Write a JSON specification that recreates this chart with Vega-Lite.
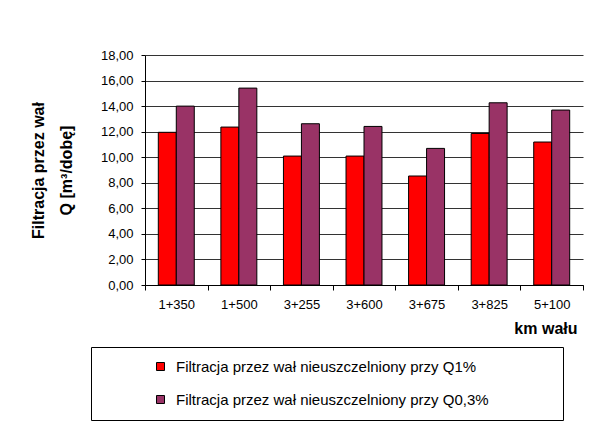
{
  "$schema": "https://vega.github.io/schema/vega-lite/v6.json",
  "width": 438,
  "height": 230,
  "autosize": {"type": "none"},
  "padding": {"left": 145, "top": 55, "right": 14, "bottom": 143},
  "background": "white",
  "config": {
    "font": "Liberation Sans",
    "view": {"stroke": null},
    "axis": {"labelFont": "Liberation Sans", "titleFont": "Liberation Sans", "labelColor": "#000", "titleColor": "#000"}
  },
  "data": {
    "values": [
      {"km": "1+350", "seria": "Filtracja przez wał nieuszczelniony przy Q1%", "q": 11.95},
      {"km": "1+350", "seria": "Filtracja przez wał nieuszczelniony przy Q0,3%", "q": 14.0},
      {"km": "1+500", "seria": "Filtracja przez wał nieuszczelniony przy Q1%", "q": 12.36},
      {"km": "1+500", "seria": "Filtracja przez wał nieuszczelniony przy Q0,3%", "q": 15.41},
      {"km": "3+255", "seria": "Filtracja przez wał nieuszczelniony przy Q1%", "q": 10.09},
      {"km": "3+255", "seria": "Filtracja przez wał nieuszczelniony przy Q0,3%", "q": 12.62},
      {"km": "3+600", "seria": "Filtracja przez wał nieuszczelniony przy Q1%", "q": 10.09},
      {"km": "3+600", "seria": "Filtracja przez wał nieuszczelniony przy Q0,3%", "q": 12.41},
      {"km": "3+675", "seria": "Filtracja przez wał nieuszczelniony przy Q1%", "q": 8.53},
      {"km": "3+675", "seria": "Filtracja przez wał nieuszczelniony przy Q0,3%", "q": 10.69},
      {"km": "3+825", "seria": "Filtracja przez wał nieuszczelniony przy Q1%", "q": 11.86},
      {"km": "3+825", "seria": "Filtracja przez wał nieuszczelniony przy Q0,3%", "q": 14.26},
      {"km": "5+100", "seria": "Filtracja przez wał nieuszczelniony przy Q1%", "q": 11.19},
      {"km": "5+100", "seria": "Filtracja przez wał nieuszczelniony przy Q0,3%", "q": 13.69}
    ]
  },
  "mark": {"type": "bar", "stroke": "#000", "strokeWidth": 1},
  "encoding": {
    "x": {
      "field": "km", "type": "nominal", "sort": null,
      "scale": {"paddingInner": 0, "paddingOuter": 0},
      "axis": {
        "title": "km wału", "titleFontSize": 16, "titleFontWeight": "bold",
        "titleAnchor": "end", "titleAlign": "right", "titleX": 432, "titlePadding": 9,
        "labelAngle": 0, "labelFontSize": 13, "labelPadding": 8,
        "tickBand": "extent", "tickSize": 5, "tickColor": "#000",
        "domainColor": "#000", "grid": false
      }
    },
    "xOffset": {
      "field": "seria", "type": "nominal", "sort": null,
      "scale": {"paddingInner": 0, "paddingOuter": 0.74}
    },
    "y": {
      "field": "q", "type": "quantitative",
      "scale": {"domain": [0, 18], "nice": false},
      "axis": {
        "title": ["Filtracja przez wał", "Q [m³/dobę]"],
        "titleFontSize": 16, "titleFontWeight": "bold", "titleLineHeight": 28,
        "titlePadding": 26,
        "values": [0, 2, 4, 6, 8, 10, 12, 14, 16, 18],
        "labelExpr": "replace(format(datum.value, '.2f'), '.', ',')",
        "labelFontSize": 13, "labelPadding": 8, "tickSize": 4, "tickColor": "#000",
        "domainColor": "#000",
        "grid": true, "gridColor": "#333", "gridWidth": 1
      }
    },
    "color": {
      "field": "seria", "type": "nominal", "sort": null,
      "scale": {"range": ["#FF0000", "#993366"]},
      "legend": {
        "title": " ", "titleOrient": "right", "titlePadding": 62, "titleFontSize": 4,
        "orient": "none", "legendX": -54, "legendY": 292,
        "direction": "vertical",
        "strokeColor": "#000", "padding": 12, "rowPadding": 17,
        "symbolType": "square", "symbolSize": 64, "symbolStrokeColor": "#000", "symbolStrokeWidth": 1,
        "symbolOffset": 50, "labelOffset": 8,
        "labelFontSize": 15, "labelFont": "Liberation Sans", "labelColor": "#000", "labelLimit": 400
      }
    }
  }
}
